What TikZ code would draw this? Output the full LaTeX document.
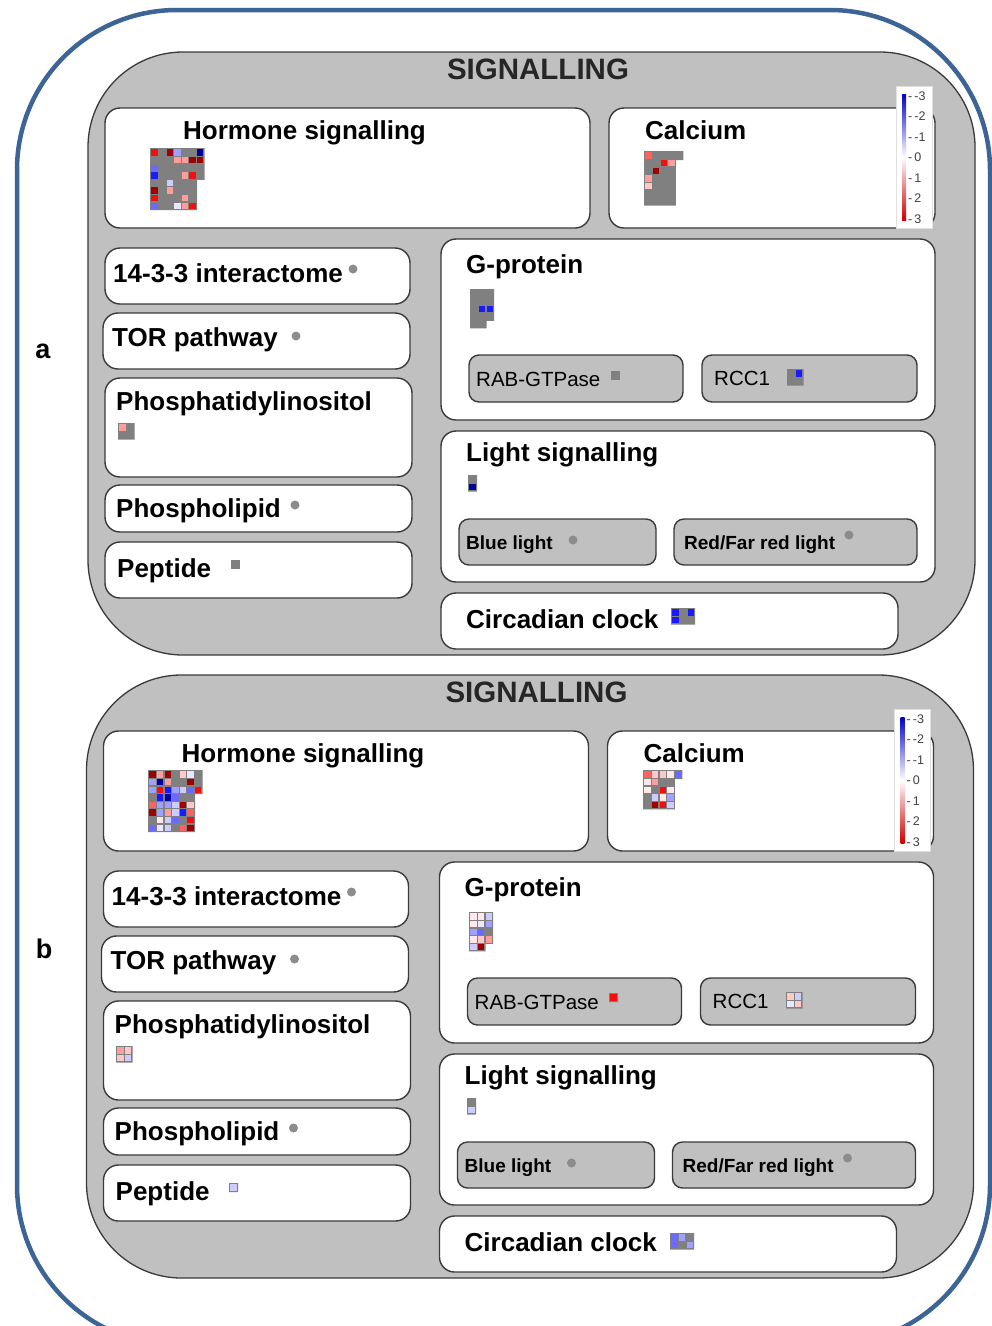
\documentclass[tikz,border=0pt]{standalone}
\usepackage{fontspec}
\setmainfont{Liberation Sans}
\definecolor{frameblue}{HTML}{3C6496}
\definecolor{panelgray}{HTML}{C0C0C0}
\definecolor{edgegray}{HTML}{3A3A3A}
\definecolor{hmgray}{HTML}{808080}
\definecolor{dotgray}{HTML}{8C8C8C}
% expression scale
\definecolor{dr}{HTML}{A00000}
\definecolor{rd}{HTML}{F01010}
\definecolor{sm}{HTML}{FF6060}
\definecolor{pk}{HTML}{FF9C9C}
\definecolor{lp}{HTML}{FFC8C8}
\definecolor{wp}{HTML}{FFE8E8}
\definecolor{db}{HTML}{0000A0}
\definecolor{bl}{HTML}{1A1AFF}
\definecolor{mb}{HTML}{6A6AFF}
\definecolor{lb}{HTML}{A0A0FF}
\definecolor{lv}{HTML}{CCCCFF}
\definecolor{wb}{HTML}{E8E8FF}
\definecolor{barblue}{HTML}{0000C8}
\definecolor{barred}{HTML}{D00000}

% box from corner coordinates: name, x1, y1, x2, y2, style
\newcommand\boxnode[6]{%
  \node[#6, minimum width={(#4)-(#2)}, minimum height={(#5)-(#3)}] (#1)
    at ({((#2)+(#4))/2},{((#3)+(#5))/2}) {};}

% heat map: x, y, columns in upper rows, first lower row, columns in lower rows, rows, cells
\newcommand\hmap[7]{%
  \begin{scope}[shift={(#1,#2)}]
    \fill[hmgray] (0,0) -- ({1.4+7.6*#3},0) -- ({1.4+7.6*#3},{1.4+7.6*#4})
      -- ({1.4+7.6*#5},{1.4+7.6*#4}) -- ({1.4+7.6*#5},{1.4+7.6*#6}) -- (0,{1.4+7.6*#6}) -- cycle;
    \foreach \c/\r/\k in {#7} \fill[\k] ({1.4+7.6*\c},{1.4+7.6*\r}) rectangle +(6.3,6.3);
  \end{scope}}

% one SIGNALLING panel, node names prefixed with #1
\newcommand\signalpanel[1]{%
  \node[panel, minimum width=887, minimum height=603] (#1-panel) at (531.5,353.5) {};
  \node[titlelab, anchor=base] (#1-title) at (538,79) {SIGNALLING};
  \boxnode{#1-hormone}{105}{108}{590}{228}{wbox}
  \boxnode{#1-calcium}{609}{108}{935}{228}{wbox}
  \boxnode{#1-i1433}{105}{248}{410}{304}{wbox}
  \boxnode{#1-tor}{103}{313}{410}{369}{wbox}
  \boxnode{#1-pi}{105}{378}{412}{477}{wbox}
  \boxnode{#1-pl}{105}{485}{412}{532}{wbox}
  \boxnode{#1-pep}{105}{542}{412}{598}{wbox}
  \boxnode{#1-gp}{441}{239}{935}{420}{wbox}
  \boxnode{#1-rab}{469}{355}{683}{402}{gbox}
  \boxnode{#1-rcc}{702}{355}{917}{402}{gbox}
  \boxnode{#1-light}{441}{431}{935}{582}{wbox}
  \boxnode{#1-blue}{459}{519}{656}{565}{gbox}
  \boxnode{#1-red}{674}{519}{917}{565}{gbox}
  \boxnode{#1-clock}{441}{593}{898}{649}{wbox}
  \node[lab] (#1-hormone-t) at (183,139) {Hormone signalling};
  \node[lab] (#1-calcium-t) at (645,139) {Calcium};
  \node[lab] (#1-i1433-t) at (113,282) {14-3-3 interactome};
  \node[lab] (#1-tor-t) at (112,346) {TOR pathway};
  \node[lab] (#1-pi-t) at (116,410) {Phosphatidylinositol};
  \node[lab] (#1-pl-t) at (116,517) {Phospholipid};
  \node[lab] (#1-pep-t) at (117,577) {Peptide};
  \node[lab] (#1-gp-t) at (466,273) {G-protein};
  \node[sublab] (#1-rab-t) at (476,386) {RAB-GTPase};
  \node[sublab] (#1-rcc-t) at (714,385) {RCC1};
  \node[lab] (#1-light-t) at (466,461) {Light signalling};
  \node[lightlab] (#1-blue-t) at (466,549) {Blue light};
  \node[lightlab] (#1-red-t) at (684,549) {Red/Far red light};
  \node[lab] (#1-clock-t) at (466,628) {Circadian clock};
  \node[dot] (#1-i1433-d) at (353,269) {};
  \node[dot] (#1-tor-d) at (296,336) {};
  \node[dot] (#1-pl-d) at (295,505) {};
  \node[dot] (#1-blue-d) at (573,540) {};
  \node[dot] (#1-red-d) at (849,535) {};
  % colour key
  \node[keybox, minimum width=36, minimum height=142] (#1-key) at (914,157) {};
  \shade[top color=barblue, bottom color=white] (902,94) rectangle (906,157);
  \shade[top color=white, bottom color=barred] (902,157) rectangle (906,220);
  \foreach \v [count=\i from 0] in {-3,-2,-1,0,1,2,3}
    \node[keylab] (#1-key-\i) at (908,{96+\i*20.5}) {-\,\v};
}

\begin{document}
\begin{tikzpicture}[x=1pt,y=-1pt,
  panel/.style={draw=edgegray, line width=1.3pt, fill=panelgray, rounded corners=95, inner sep=0},
  wbox/.style={draw=edgegray, line width=1.4pt, fill=white, rounded corners=15, inner sep=0},
  gbox/.style={draw=edgegray, line width=1.4pt, fill=panelgray, rounded corners=10, inner sep=0},
  keybox/.style={fill=white, draw=white!88!black, line width=0.5pt, inner sep=0},
  lab/.style={anchor=base west, inner sep=0, font=\fontsize{26}{31}\selectfont\bfseries},
  titlelab/.style={inner sep=0, font=\fontsize{29.5}{35}\selectfont\bfseries, text=black!85},
  sublab/.style={anchor=base west, inner sep=0, font=\fontsize{20.5}{24}\selectfont},
  lightlab/.style={anchor=base west, inner sep=0, font=\fontsize{19}{23}\selectfont\bfseries},
  keylab/.style={anchor=west, inner sep=0, font=\fontsize{12.5}{13}\selectfont, text=black!75},
  dot/.style={circle, fill=dotgray, minimum size=9, inner sep=0},
  sidelab/.style={anchor=base, inner sep=0, font=\fontsize{27}{32}\selectfont\bfseries}]
\useasboundingbox (0,0) rectangle (992,1326);
\fill[white] (0,0) rectangle (992,1326);
\draw[frameblue, line width=4.5pt, rounded corners=160] (17,10) rectangle (990,1345);

\node[sidelab] (la) at (43,358) {a};
\node[sidelab] (lb) at (44,958) {b};

% panel a
\signalpanel{pa}
\hmap{150}{148}{7}{4}{6}{8}{0/0/rd,2/0/dr,3/0/lb,6/0/db,3/1/pk,4/1/pk,5/1/dr,6/1/dr,0/2/mb,0/3/bl,4/3/pk,5/3/rd,2/4/lv,0/5/dr,2/5/pk,0/6/rd,4/6/pk,0/7/mb,3/7/wb,4/7/pk,5/7/rd}
\hmap{644}{151}{5}{1}{4}{7}{0/0/sm,2/1/rd,3/1/pk,1/2/dr,0/3/pk,0/4/lp}
\hmap{470}{289}{3}{4}{2}{5}{1/2/bl,2/2/bl}
\hmap{118}{423}{2}{2}{2}{2}{0/0/pk}
\fill[hmgray] (611,371) rectangle +(9,9);
\hmap{787}{369}{2}{2}{2}{2}{1/0/bl}
\fill[hmgray] (231,560) rectangle +(9,9);
\hmap{468}{475}{1}{2}{1}{2}{0/1/db}
\hmap{671}{608}{3}{2}{3}{2}{0/0/bl,2/0/bl,0/1/bl}

% panel b
\begin{scope}[shift={(-1.5,623)}]
\signalpanel{pb}
\end{scope}
\hmap{148}{770}{7}{3}{6}{8}{0/0/dr,1/0/pk,2/0/dr,4/0/lp,5/0/wb,0/1/lb,1/1/db,2/1/pk,5/1/dr,0/2/lb,1/2/rd,2/2/bl,3/2/lb,4/2/lv,5/2/mb,6/2/rd,1/3/bl,2/3/db,3/3/mb,0/4/sm,1/4/lb,2/4/lb,3/4/lv,4/4/dr,5/4/lp,0/5/dr,1/5/lb,2/5/pk,3/5/lv,4/5/bl,5/5/sm,1/6/wp,2/6/lv,3/6/mb,5/6/rd,0/7/mb,1/7/wb,2/7/lv,4/7/sm,5/7/dr}
\hmap{643}{770}{5}{1}{4}{5}{0/0/sm,1/0/lp,2/0/lp,3/0/wp,4/0/mb,0/1/wp,1/1/pk,0/2/wp,2/2/rd,3/2/wp,1/3/lv,2/3/wp,3/3/lb,1/4/dr,2/4/rd,3/4/lv}
\hmap{469}{912}{3}{4}{2}{5}{0/0/wp,1/0/wp,2/0/lv,0/1/wp,1/1/wb,2/1/lb,0/2/lb,1/2/mb,0/3/wp,1/3/lp,2/3/pk,0/4/lv,1/4/dr}
\hmap{116}{1046}{2}{2}{2}{2}{0/0/pk,1/0/lp,0/1/lp,1/1/lv}
\hmap{609}{993}{1}{1}{1}{1}{0/0/rd}
\hmap{786}{992}{2}{2}{2}{2}{0/0/lp,1/0/lv,0/1/wb,1/1/lp}
\hmap{229}{1183}{1}{1}{1}{1}{0/0/lv}
\hmap{467}{1098}{1}{2}{1}{2}{0/1/lv}
\hmap{670}{1233}{3}{2}{3}{2}{0/0/mb,1/0/lb,0/1/mb,2/1/lb}
\end{tikzpicture}
\end{document}
